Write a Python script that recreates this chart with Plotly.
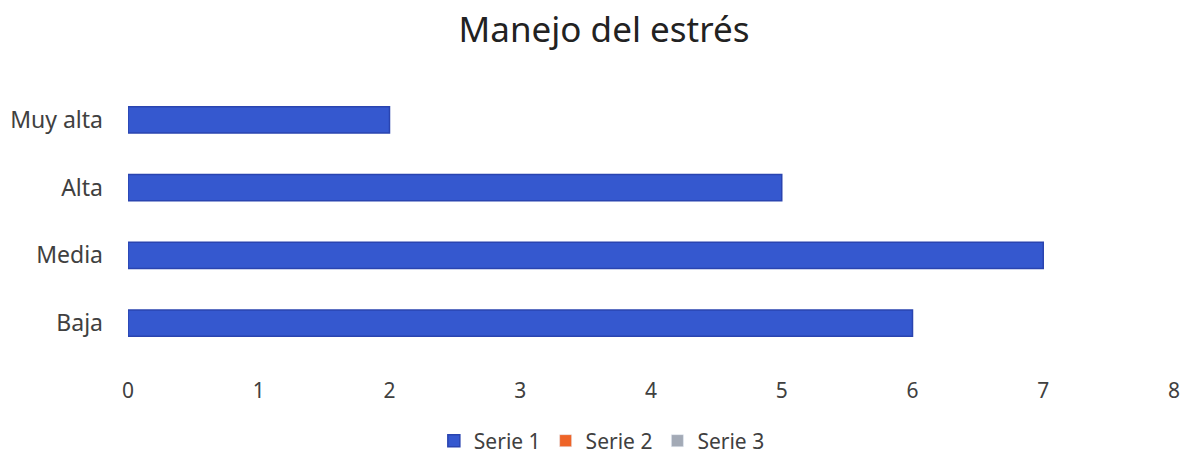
import plotly.graph_objects as go

categories = ["Baja", "Media", "Alta", "Muy alta"]
serie1 = [6, 7, 5, 2]
serie2 = [None, None, None, None]
serie3 = [None, None, None, None]
x_ticks = [0, 1, 2, 3, 4, 5, 6, 7, 8]

FONT = "Noto Sans"
fig = go.Figure()
fig.add_trace(go.Bar(y=categories, x=serie1, orientation="h", name="Serie 1",
                     marker=dict(color="#3558CF", line=dict(color="#2A44B0", width=1.5)),
                     width=0.39))
fig.add_trace(go.Bar(y=categories, x=serie2, orientation="h", name="Serie 2",
                     marker=dict(color="#EE6428"), width=0.39))
fig.add_trace(go.Bar(y=categories, x=serie3, orientation="h", name="Serie 3",
                     marker=dict(color="#A3AAB6"), width=0.39))

fig.update_layout(
    width=1182, height=456,
    barmode="overlay",
    paper_bgcolor="white", plot_bgcolor="white",
    margin=dict(l=128, r=8, t=86, b=99, autoexpand=False),
    title=dict(text="Manejo del estrés", x=0.511, xanchor="center", y=0.934, yanchor="middle",
               font=dict(family=FONT, size=35, color="#222222")),
    font=dict(family=FONT, color="#404040"),
    xaxis=dict(range=[0, 8], tickvals=x_ticks, showgrid=False, zeroline=False, showline=False,
               tickfont=dict(size=21, color="#404040"), ticks="", ticklabelstandoff=19,
               automargin=False),
    yaxis=dict(categoryorder="array", categoryarray=categories, showgrid=False, zeroline=False,
               showline=False, ticks="", tickfont=dict(size=23, color="#404040"),
               ticklabelstandoff=24, range=[-0.5, 3.5], automargin=False),
    legend=dict(orientation="h", x=0.453, xanchor="center", y=-0.31, yanchor="middle",
                font=dict(size=21, color="#404040"), itemwidth=30, traceorder="normal"),
)
fig.write_html(
    "out.html",
    config={"displayModeBar": False},
    post_script="document.body.style.margin='0';document.body.style.overflow='hidden';",
)
